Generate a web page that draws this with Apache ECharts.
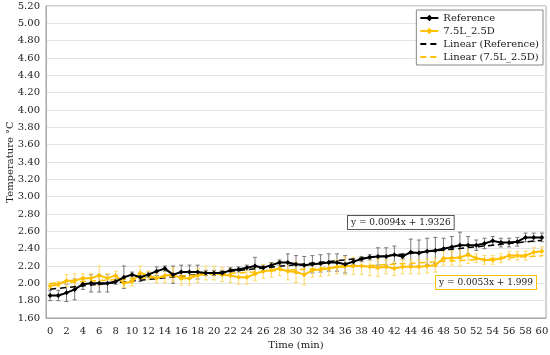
<!DOCTYPE html>
<html><head><meta charset="utf-8">
<script src="https://cdn.jsdelivr.net/npm/echarts@6/dist/echarts.min.js"></script>
<style>html,body{margin:0;padding:0;background:#fff}#c{width:550px;height:355px}</style>
</head><body><div id="c"></div>
<script>
var minutes = [];
for (var i = 0; i <= 60; i++) minutes.push(String(i));
var refValues = [1.86,1.86,1.89,1.93,1.99,2.00,2.00,2.00,2.02,2.07,2.10,2.07,2.10,2.14,2.17,2.10,2.13,2.13,2.13,2.12,2.12,2.12,2.15,2.16,2.18,2.20,2.18,2.21,2.24,2.24,2.22,2.21,2.22,2.23,2.24,2.24,2.22,2.25,2.28,2.30,2.31,2.31,2.33,2.31,2.36,2.35,2.37,2.38,2.40,2.42,2.44,2.44,2.44,2.46,2.49,2.47,2.47,2.48,2.53,2.53,2.53];
var refErr = [0.06,0.06,0.10,0.12,0.06,0.10,0.10,0.10,0.03,0.13,0.03,0.05,0.03,0.05,0.03,0.10,0.08,0.08,0.08,0.03,0.03,0.03,0.03,0.03,0.03,0.10,0.03,0.03,0.03,0.10,0.10,0.10,0.10,0.10,0.10,0.10,0.10,0.03,0.03,0.03,0.10,0.10,0.10,0.03,0.15,0.15,0.15,0.15,0.12,0.12,0.15,0.10,0.06,0.06,0.05,0.05,0.05,0.05,0.05,0.05,0.05];
var mixValues = [1.97,1.99,2.03,2.03,2.06,2.06,2.09,2.06,2.09,2.00,2.02,2.12,2.09,2.06,2.09,2.10,2.06,2.06,2.09,2.12,2.12,2.10,2.09,2.07,2.07,2.11,2.14,2.15,2.17,2.14,2.13,2.10,2.15,2.16,2.17,2.19,2.20,2.20,2.20,2.19,2.18,2.19,2.17,2.19,2.19,2.19,2.20,2.21,2.29,2.29,2.30,2.33,2.29,2.27,2.27,2.29,2.32,2.32,2.32,2.36,2.37];
var mixErr = [0.03,0.03,0.07,0.08,0.05,0.05,0.11,0.05,0.05,0.05,0.05,0.08,0.05,0.05,0.08,0.08,0.08,0.08,0.08,0.08,0.08,0.08,0.08,0.08,0.08,0.08,0.08,0.08,0.08,0.10,0.12,0.12,0.08,0.08,0.08,0.08,0.10,0.10,0.10,0.10,0.10,0.08,0.08,0.08,0.08,0.08,0.08,0.08,0.08,0.08,0.10,0.10,0.05,0.05,0.05,0.05,0.05,0.05,0.05,0.05,0.05];
var yTicks = ['1.60','1.80','2.00','2.20','2.40','2.60','2.80','3.00','3.20','3.40','3.60','3.80','4.00','4.20','4.40','4.60','4.80','5.00','5.20'];
var refSlope = 0.0094, refIntercept = 1.9326;
var mixSlope = 0.0053, mixIntercept = 1.999;

var FONT = 'DejaVu Serif';
var BLACK = '#000000', GOLD = '#FFC000';

function trend(s, b) { return minutes.map(function (m) { return +(s * Number(m) + b).toFixed(4); }); }
function errSeries(vals, errs, color) {
  return {
    type: 'custom', silent: true, z: 1,
    data: vals.map(function (v, i) { return [i, v - errs[i], v + errs[i]]; }),
    renderItem: function (params, api) {
      var lo = api.coord([api.value(0), api.value(1)]);
      var hi = api.coord([api.value(0), api.value(2)]);
      var w = 2;
      var st = { stroke: color, lineWidth: 1 };
      return { type: 'group', children: [
        { type: 'line', shape: { x1: lo[0], y1: lo[1], x2: hi[0], y2: hi[1] }, style: st },
        { type: 'line', shape: { x1: lo[0] - w, y1: lo[1], x2: lo[0] + w, y2: lo[1] }, style: st },
        { type: 'line', shape: { x1: hi[0] - w, y1: hi[1], x2: hi[0] + w, y2: hi[1] }, style: st }
      ]};
    }
  };
}

var chart = echarts.init(document.getElementById('c'));
chart.setOption({
  animation: false,
  textStyle: { fontFamily: FONT },
  grid: { left: 46, right: 4, top: 6, bottom: 37, containLabel: false, outerBoundsMode: 'none',
    show: true, borderColor: '#a6a6a6', borderWidth: 1 },
  xAxis: {
    type: 'category', data: minutes, boundaryGap: true,
    name: 'Time (min)', nameLocation: 'middle', nameGap: 20,
    nameTextStyle: { fontFamily: FONT, fontSize: 10, color: '#222' },
    axisLine: { lineStyle: { color: '#a6a6a6' } },
    axisTick: { show: false },
    axisLabel: { interval: 1, fontFamily: FONT, fontSize: 10, color: '#222', margin: 8 }
  },
  yAxis: {
    type: 'value', min: 1.6, max: 5.2, interval: 0.2,
    axisLine: { show: true, lineStyle: { color: '#a6a6a6' } },
    axisTick: { show: false },
    splitLine: { lineStyle: { color: '#e3e3e3' } },
    axisLabel: { fontFamily: FONT, fontSize: 10, color: '#222', margin: 6,
      formatter: function (v) { return v.toFixed(2); } }
  },
  legend: {
    right: 7, top: 10, orient: 'vertical', itemGap: 3, itemWidth: 18, itemHeight: 8,
    backgroundColor: '#fff', borderColor: '#888', borderWidth: 1, padding: [3, 4, 3, 3],
    textStyle: { fontFamily: FONT, fontSize: 10, color: '#222' },
    data: [
      { name: 'Reference' },
      { name: '7.5L_2.5D' },
      { name: 'Linear (Reference)', itemStyle: { opacity: 0 } },
      { name: 'Linear (7.5L_2.5D)', itemStyle: { opacity: 0 } }
    ]
  },
  series: [
    errSeries(refValues, refErr, '#777777'),
    errSeries(mixValues, mixErr, '#FFD966'),
    { name: 'Linear (Reference)', type: 'line', data: trend(refSlope, refIntercept), symbol: 'none', z: 3,
      lineStyle: { color: BLACK, width: 1.5, type: [6, 4] }, itemStyle: { color: BLACK } },
    { name: 'Linear (7.5L_2.5D)', type: 'line', data: trend(mixSlope, mixIntercept), symbol: 'none', z: 3,
      lineStyle: { color: GOLD, width: 1.5, type: [6, 4] }, itemStyle: { color: GOLD } },
    { name: '7.5L_2.5D', type: 'line', data: mixValues, symbol: 'diamond', symbolSize: 5, z: 4,
      lineStyle: { color: GOLD, width: 2 }, itemStyle: { color: GOLD } },
    { name: 'Reference', type: 'line', data: refValues, symbol: 'diamond', symbolSize: 5, z: 5,
      lineStyle: { color: BLACK, width: 2 }, itemStyle: { color: BLACK } }
  ],
  graphic: [
    { type: 'text', x: 10, y: 162, rotation: Math.PI / 2, z: 10,
      style: { text: 'Temperature °C', font: '10px "' + FONT + '"', fill: '#222',
        align: 'center', verticalAlign: 'middle' } },
    { type: 'text', left: 347, top: 215, z: 10,
      style: { text: 'y = 0.0094x + 1.9326', font: '9px "' + FONT + '"', fill: '#222',
        backgroundColor: '#fff', borderColor: '#555', borderWidth: 1, padding: [2, 3] } },
    { type: 'text', right: 13, top: 275, z: 10,
      style: { text: 'y = 0.0053x + 1.999', font: '9px "' + FONT + '"', fill: '#222',
        backgroundColor: '#fff', borderColor: GOLD, borderWidth: 1, padding: [2, 3] } }
  ]
});
</script></body></html>
